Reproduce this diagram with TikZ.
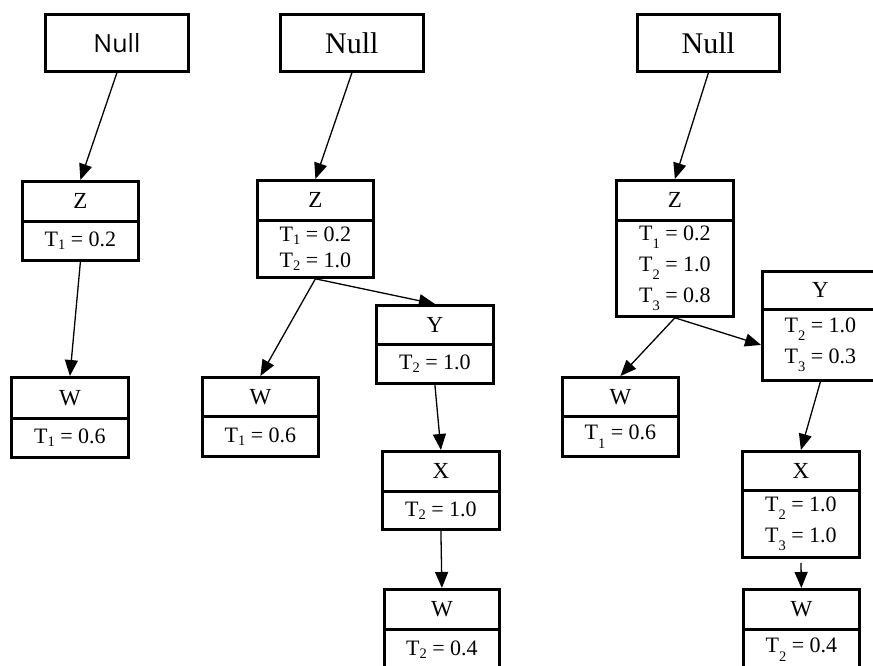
\documentclass[tikz,border=0pt]{standalone}
\usepackage{fontspec}
\setmainfont{Liberation Serif}
\newfontfamily\nullsans{Open Sans}
\usetikzlibrary{arrows.meta}
\newcommand\lsub[1]{\raisebox{-0.3ex}{\fontsize{14.5}{14.5}\selectfont #1}}
\newcommand\dsub[1]{\raisebox{-0.85ex}{\fontsize{14.5}{14.5}\selectfont #1}}
\tikzset{
  rec/.style={draw, line width=2.8pt, inner sep=0pt, anchor=north west,
    font=\fontsize{23}{26}\selectfont, align=center},
  body/.style={rec, font=\fontsize{22}{26}\selectfont},
  bodydeep/.style={rec, font=\fontsize{22}{31}\selectfont},
  nullbox/.style={rec, minimum width=143pt, minimum height=57pt, font=\fontsize{30}{32}\selectfont},
  conn/.style={draw, line width=1.3pt, -{Triangle[length=16pt,width=13pt]}},
}
\begin{document}
\begin{tikzpicture}[x=1pt,y=-1pt]
\useasboundingbox (0,0) rectangle (873,665);
\clip (0,0) rectangle (873,665);
% Tree 1
\node[nullbox, font=\nullsans\fontsize{25}{28}\selectfont] (N1) at (44,13) {Null};
\node[rec, minimum width=116pt, minimum height=40pt] (Z1) at (21,180) {Z};
\node[body, minimum width=116pt, minimum height=39pt] (Z1b) at (21,220) {T\lsub{1} = 0.2};
\node[rec, minimum width=117pt, minimum height=41pt] (W1) at (10,376) {W};
\node[body, minimum width=117pt, minimum height=39pt] (W1b) at (10,417) {T\lsub{1} = 0.6};
% Tree 2
\node[nullbox] (N2) at (279,13) {Null};
\node[rec, minimum width=116pt, minimum height=40pt] (Z2) at (256,179) {Z};
\node[body, minimum width=116pt, minimum height=57pt] (Z2b) at (256,219) {T\lsub{1} = 0.2\\T\lsub{2} = 1.0};
\node[rec, minimum width=117pt, minimum height=39pt] (Y2) at (375,304) {Y};
\node[body, minimum width=117pt, minimum height=39pt] (Y2b) at (375,343) {T\lsub{2} = 1.0};
\node[rec, minimum width=116pt, minimum height=39pt] (W2) at (201,376) {W};
\node[body, minimum width=116pt, minimum height=40pt] (W2b) at (201,415) {T\lsub{1} = 0.6};
\node[rec, minimum width=117pt, minimum height=40pt] (X2) at (381,450) {X};
\node[body, minimum width=117pt, minimum height=38pt] (X2b) at (381,490) {T\lsub{2} = 1.0};
\node[rec, minimum width=115pt, minimum height=40pt] (V2) at (383,588) {W};
\node[body, minimum width=115pt, minimum height=40pt] (V2b) at (383,628) {T\lsub{2} = 0.4};
% Tree 3
\node[nullbox, minimum width=142pt] (N3) at (636,13) {Null};
\node[rec, minimum width=117pt, minimum height=40pt] (Z3) at (615,179) {Z};
\node[bodydeep, minimum width=117pt, minimum height=96pt] (Z3b) at (615,219) {T\dsub{1} = 0.2\\T\dsub{2} = 1.0\\T\dsub{3} = 0.8};
\node[rec, minimum width=116pt, minimum height=38pt] (Y3) at (761,270) {Y};
\node[bodydeep, minimum width=116pt, minimum height=71pt] (Y3b) at (761,308) {T\dsub{2} = 1.0\\T\dsub{3} = 0.3};
\node[rec, minimum width=116pt, minimum height=39pt] (W3) at (561,376) {W};
\node[body, minimum width=116pt, minimum height=40pt] (W3b) at (561,415) {T\dsub{1} = 0.6};
\node[rec, minimum width=117pt, minimum height=39pt] (X3) at (741,450) {X};
\node[bodydeep, minimum width=117pt, minimum height=67pt] (X3b) at (741,489) {T\dsub{2} = 1.0\\T\dsub{3} = 1.0};
\node[rec, minimum width=116pt, minimum height=40pt] (V3) at (742,588) {W};
\node[body, minimum width=116pt, minimum height=40pt] (V3b) at (742,628) {T\dsub{2} = 0.4};
% Connectors
\draw[conn] (N1.south) -- (Z1.north);
\draw[conn] (Z1b.south) -- (W1.north);
\draw[conn] (N2.south) -- (Z2.north);
\draw[conn] (Z2b.south) -- (W2.north);
\draw[conn] (Z2b.south) -- (Y2.north);
\draw[conn] (Y2b.south) -- (X2.north);
\draw[conn] (X2b.south) -- (V2.north);
\draw[conn] (N3.south) -- (Z3.north);
\draw[conn] (Z3b.south) -- (W3.north);
\draw[conn] (Z3b.south) -- (Y3b.west);
\draw[conn] (Y3b.south) -- (X3.north);
\draw[conn, shorten <=4pt] (X3b.south) -- (V3.north);
\end{tikzpicture}
\end{document}
